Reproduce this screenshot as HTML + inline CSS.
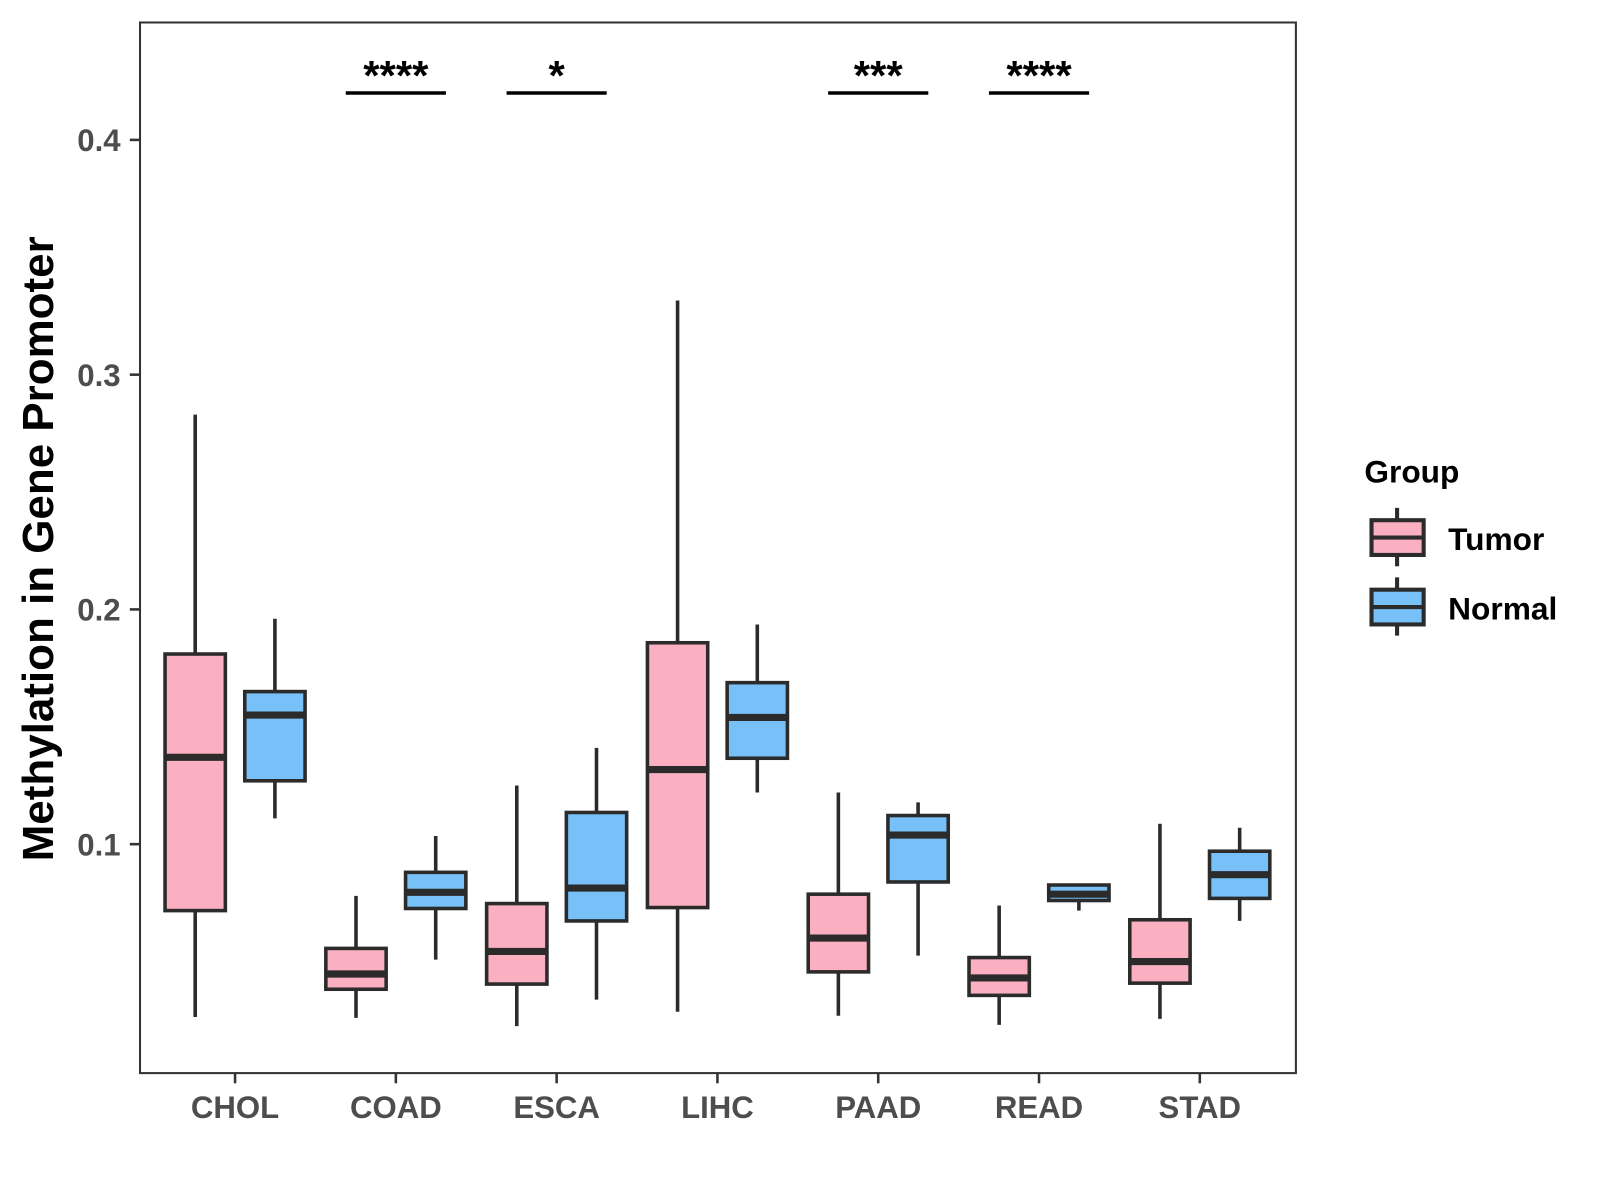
<!DOCTYPE html>
<html><head><meta charset="utf-8"><style>
html,body{margin:0;padding:0;background:#fff;}
svg{display:block;font-family:"Liberation Sans",Arial,sans-serif;}
</style></head><body>
<svg id="chart" width="1600" height="1200" viewBox="0 0 1600 1200">
<rect x="0" y="0" width="1600" height="1200" fill="#fff"/>
<g transform="scale(1.022)">
<g id="marks"></g>
<rect x="137" y="22" width="1131" height="1028" fill="none" stroke="#333" stroke-width="2"/>
<g id="axes"></g>
<text x="52" y="537" transform="rotate(-90 52 537)" text-anchor="middle" font-size="43" font-weight="bold" fill="#000">Methylation in Gene Promoter</text>
<g>
<text x="1335" y="472" font-size="31" font-weight="bold" fill="#000">Group</text>
<g>
<line x1="1367" y1="497" x2="1367" y2="554" stroke="#2b2b2b" stroke-width="4"/>
<rect x="1342" y="509" width="51" height="34" fill="#FBB0C1" stroke="#2b2b2b" stroke-width="4"/>
<line x1="1342" y1="526" x2="1393" y2="526" stroke="#2b2b2b" stroke-width="4"/>
<text x="1417" y="538" font-size="31" font-weight="bold" fill="#000">Tumor</text>
</g>
<g>
<line x1="1367" y1="565" x2="1367" y2="622" stroke="#2b2b2b" stroke-width="4"/>
<rect x="1342" y="577" width="51" height="34" fill="#78C1F8" stroke="#2b2b2b" stroke-width="4"/>
<line x1="1342" y1="594" x2="1393" y2="594" stroke="#2b2b2b" stroke-width="4"/>
<text x="1417" y="606" font-size="31" font-weight="bold" fill="#000">Normal</text>
</g>
</g>
</g>
</svg>
<script>
const categories = ["CHOL","COAD","ESCA","LIHC","PAAD","READ","STAD"];
// [low, q1, median, q3, high]
const tumorStats = [
  [0.0264,0.0717,0.137,0.181,0.283],
  [0.026,0.0382,0.0447,0.0556,0.078],
  [0.0225,0.0404,0.0543,0.0747,0.125],
  [0.0286,0.073,0.1318,0.1858,0.3316],
  [0.0269,0.0456,0.060,0.0787,0.122],
  [0.023,0.0356,0.043,0.0517,0.0739],
  [0.0256,0.0408,0.050,0.0678,0.1087]
];
const normalStats = [
  [0.111,0.127,0.155,0.165,0.196],
  [0.0508,0.0726,0.0795,0.088,0.1035],
  [0.0338,0.0673,0.0813,0.1135,0.141],
  [0.122,0.1366,0.154,0.1688,0.1936],
  [0.0525,0.0839,0.1039,0.1122,0.1178],
  [0.0717,0.076,0.0787,0.0826,0.0826],
  [0.0673,0.0769,0.087,0.097,0.107]
];
const signif = ["", "****", "*", "", "***", "****", ""];
const yTicks = [0.1,0.2,0.3,0.4];
const yTickLabels = ["0.1","0.2","0.3","0.4"];

const NS="http://www.w3.org/2000/svg";
function y(v){ return 826 - (v-0.1)*2297; }
function xc(i){ return 230 + i*157.33; }
function mk(tag, attrs, parent){ const e=document.createElementNS(NS,tag); for(const k in attrs) e.setAttribute(k,attrs[k]); parent.appendChild(e); return e; }
const marks=document.getElementById('marks'), axes=document.getElementById('axes');
const stroke="#2b2b2b";
function box(cx, s, fill, name){
  const g=mk('g',{},marks);
  
  
  mk('line',{x1:cx,x2:cx,y1:y(s[4]),y2:y(s[0]),stroke:stroke,'stroke-width':3.5},g);
  mk('rect',{x:cx-29.5,y:y(s[3]),width:59,height:Math.max(1,y(s[1])-y(s[3])),fill:fill,stroke:stroke,'stroke-width':3.5},g);
  mk('line',{x1:cx-29.5,x2:cx+29.5,y1:y(s[2]),y2:y(s[2]),stroke:stroke,'stroke-width':7},g);
}
categories.forEach((c,i)=>{
  box(xc(i)-39, tumorStats[i], "#FBB0C1", "box-tumor-"+c.toLowerCase());
  box(xc(i)+39, normalStats[i], "#78C1F8", "box-normal-"+c.toLowerCase());
  if(signif[i]){
    const l=mk('line',{x1:xc(i)-49,x2:xc(i)+49,y1:91,y2:91,stroke:"#000",'stroke-width':3.5},marks);
    
    
    const t=mk('text',{x:xc(i),y:88,'text-anchor':'middle','font-size':41,'font-weight':'bold',fill:'#000'},marks);
    t.textContent=signif[i];
    
    
  }
  mk('line',{x1:xc(i),x2:xc(i),y1:1050,y2:1060,stroke:"#333",'stroke-width':2.5},axes);
  const t=mk('text',{x:xc(i),y:1094,'text-anchor':'middle','font-size':30.5,'font-weight':'bold',fill:'#4d4d4d'},axes);
  t.textContent=c;
  
  
});
yTicks.forEach((v,i)=>{
  mk('line',{x1:127,x2:137,y1:y(v),y2:y(v),stroke:"#333",'stroke-width':2.5},axes);
  const t=mk('text',{x:118,y:y(v)+11,'text-anchor':'end','font-size':30.5,'font-weight':'bold',fill:'#4d4d4d'},axes);
  t.textContent=yTickLabels[i];
  
  
});
</script>
</body></html>
